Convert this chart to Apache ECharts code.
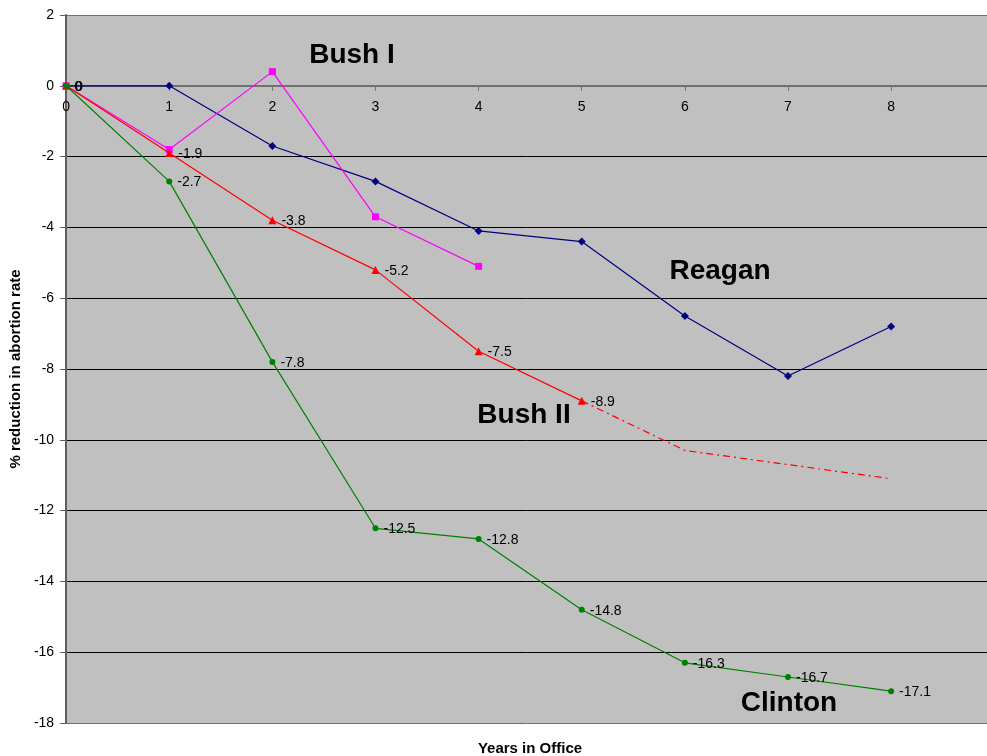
<!DOCTYPE html>
<html>
<head>
<meta charset="utf-8">
<script src="https://cdn.jsdelivr.net/npm/echarts@6/dist/echarts.min.js"></script>
<style>html,body{margin:0;padding:0;background:#fff;}#c{width:987px;height:756px;}</style>
</head>
<body>
<div id="c"></div>
<script>
var years = [0, 1, 2, 3, 4, 5, 6, 7, 8];
var reagan = [0, 0, -1.7, -2.7, -4.1, -4.4, -6.5, -8.2, -6.8];
var bush1 = [0, -1.8, 0.4, -3.7, -5.1];
var bush2 = [0, -1.9, -3.8, -5.2, -7.5, -8.9];
var bush2Projection = [null, null, null, null, null, -8.9, -10.3, -10.7, -11.1];
var clinton = [0, -2.7, -7.8, -12.5, -12.8, -14.8, -16.3, -16.7, -17.1];
var yTicks = [-18, -16, -14, -12, -10, -8, -6, -4, -2, 0, 2];
var seriesNames = ['Reagan', 'Bush I', 'Bush II', 'Clinton'];

function pairs(arr) {
  var out = [];
  for (var i = 0; i < arr.length; i++) {
    if (arr[i] !== null) out.push([years[i], arr[i]]);
  }
  return out;
}
var FONT = 'Arial, "Liberation Sans", Helvetica, sans-serif';
var labelStyle = {show: true, position: 'right', distance: 5, offset: [0, 1], color: '#000', fontSize: 14, fontFamily: FONT,
  formatter: function (p) { return String(p.value[1]); }};

var GRID_TOP = 15, GRID_BOTTOM = 33, H = 756;
var plotH = H - GRID_TOP - GRID_BOTTOM;
var yMin = yTicks[0], yMax = yTicks[yTicks.length - 1];
// distance from bottom of plot to the y=0 line
var zeroOffset = plotH * (0 - yMin) / (yMax - yMin);

var chart = echarts.init(document.getElementById('c'));
chart.setOption({
  backgroundColor: '#fff',
  animation: false,
  grid: {left: 66, right: 0, top: GRID_TOP, bottom: GRID_BOTTOM, show: true, backgroundColor: '#c0c0c0', borderWidth: 0},
  xAxis: {
    type: 'value', min: 0, max: 8.93, interval: 1, position: 'bottom', offset: -zeroOffset,
    axisLine: {onZero: false, lineStyle: {color: '#707070', width: 2}},
    axisTick: {show: true, length: 5, inside: false, customValues: years, lineStyle: {color: '#707070'}},
    axisLabel: {customValues: years, color: '#000', fontSize: 14, fontFamily: FONT, margin: 14},
    splitLine: {show: false}
  },
  yAxis: {
    type: 'value', min: yMin, max: yMax, interval: 2,
    name: '% reduction in abortion rate', nameLocation: 'middle', nameGap: 40,
    nameTextStyle: {fontWeight: 'bold', fontSize: 15, fontFamily: FONT, color: '#000'},
    axisLine: {show: true, lineStyle: {color: '#606060', width: 2}},
    axisTick: {show: true, length: 6, lineStyle: {color: '#606060'}},
    axisLabel: {color: '#000', fontSize: 14, fontFamily: FONT, margin: 12},
    splitLine: {show: true, lineStyle: {color: ['#707070', '#000', '#000', '#000', '#000', '#000', '#000', '#000', '#000', '#000', '#707070'], width: 1}}
  },
  series: [
    {name: seriesNames[0], type: 'line', data: pairs(reagan), color: '#000080', symbol: 'diamond', symbolSize: 8,
      lineStyle: {width: 1.2}, z: 3},
    {name: seriesNames[1], type: 'line', data: pairs(bush1), color: '#ff00ff', symbol: 'rect', symbolSize: 7,
      lineStyle: {width: 1.2}, z: 4},
    {name: seriesNames[2], type: 'line', data: pairs(bush2), color: '#ff0000', symbol: 'triangle', symbolSize: 8,
      lineStyle: {width: 1.2}, label: labelStyle, z: 5},
    {name: seriesNames[2] + ' projection', type: 'line', data: pairs(bush2Projection), color: '#ff0000', symbol: 'none',
      lineStyle: {width: 1.2, type: [7, 4, 2, 4]}, z: 2},
    {name: seriesNames[3], type: 'line', data: pairs(clinton), color: '#008000', symbol: 'circle', symbolSize: 6,
      lineStyle: {width: 1.2}, label: labelStyle, z: 6}
  ],
  graphic: [
    {type: 'text', x: 530, y: 749, style: {text: 'Years in Office', font: 'bold 15px ' + FONT, fill: '#000', align: 'center', verticalAlign: 'middle'}},
    {type: 'text', x: 352, y: 55, style: {text: 'Bush I', font: 'bold 28px ' + FONT, fill: '#000', align: 'center', verticalAlign: 'middle'}, z: 10},
    {type: 'text', x: 720, y: 271, style: {text: 'Reagan', font: 'bold 28px ' + FONT, fill: '#000', align: 'center', verticalAlign: 'middle'}, z: 10},
    {type: 'text', x: 524, y: 415, style: {text: 'Bush II', font: 'bold 28px ' + FONT, fill: '#000', align: 'center', verticalAlign: 'middle'}, z: 10},
    {type: 'text', x: 789, y: 703, style: {text: 'Clinton', font: 'bold 28px ' + FONT, fill: '#000', align: 'center', verticalAlign: 'middle'}, z: 10}
  ]
});
</script>
</body>
</html>
